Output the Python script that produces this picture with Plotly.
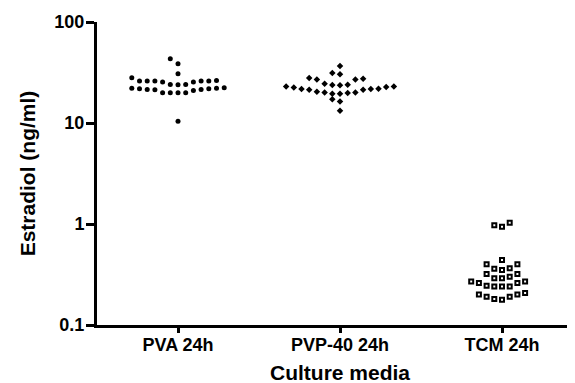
import numpy as np
import plotly.graph_objects as go

# ---- data ----
categories = ["PVA 24h", "PVP-40 24h", "TCM 24h"]
pva_24h = [43.3, 38.6, 30.8, 28.1, 26.0, 26.0, 26.0, 26.0, 26.0, 26.4, 25.4, 25.4,
           24.1, 24.1, 23.9, 19.9, 19.9, 19.9, 19.9, 21.0, 21.3, 21.5, 21.5, 21.8,
           21.8, 22.1, 22.1, 22.3, 10.4]
pvp40_24h = [36.6, 30.3, 31.2, 27.0, 27.0, 27.4, 27.9, 23.6, 23.8, 23.9, 24.5,
             19.5, 19.5, 19.8, 20.1, 20.1, 20.4, 21.3, 21.3, 21.7, 21.7, 21.8,
             22.7, 22.5, 23.0, 23.0, 17.2, 16.3, 13.2]
tcm_24h = [1.03, 0.97, 0.94, 0.44, 0.40, 0.40, 0.365, 0.36, 0.35, 0.32, 0.32,
           0.30, 0.29, 0.29, 0.27, 0.27, 0.26, 0.26, 0.245, 0.24, 0.24, 0.24,
           0.208, 0.20, 0.20, 0.19, 0.19, 0.181, 0.178]
y_tick_values = [0.1, 1, 10, 100]
y_tick_labels = ["0.1", "1", "10", "100"]
x_title = "Culture media"
y_title = "Estradiol (ng/ml)"

# ---- layout constants ----
# (the page has an 8px body margin, so the figure is drawn 8px right/down)
W, H = 575, 383
M_L, M_R, M_T, M_B = 89, 0, 14, 66
X_RANGE = [-0.5, 2.5]
CAT_PX = (W - M_L - M_R) / (X_RANGE[1] - X_RANGE[0])   # pixels per category
SLOT_PX = 7.7                       # horizontal spacing of swarm points
ROW_DEC = 0.075                     # height of a swarm row in decades
FONT = "Liberation Sans, Arial, sans-serif"


def swarm_offsets(values, row_dec, slot_w):
    """Prism-like column scatter: group close values into rows, lowest value in
    the centre, others alternating outwards."""
    vals = np.asarray(values, dtype=float)
    logs = np.log10(vals)
    order = np.argsort(vals, kind="stable")
    off = np.zeros(len(vals))
    i, n = 0, len(vals)
    while i < n:
        start = logs[order[i]]
        j = i
        while j < n and logs[order[j]] - start <= row_dec + 1e-9:
            j += 1
        for k, idx in enumerate(order[i:j]):
            slot = ((k + 1) // 2) * (-1 if k % 2 == 1 else 1)
            off[idx] = slot * slot_w
        i = j
    return off


slot_w = SLOT_PX / CAT_PX
groups = [pva_24h, pvp40_24h, tcm_24h]
markers = [
    dict(symbol="circle", size=5, color="black", line=dict(width=0)),
    dict(symbol="diamond", size=5, color="black", line=dict(width=0)),
    dict(symbol="square", size=4, color="white", line=dict(width=2, color="black")),
]

fig = go.Figure()
for ci, (vals, mk) in enumerate(zip(groups, markers)):
    xs = ci + swarm_offsets(vals, ROW_DEC, slot_w)
    fig.add_trace(go.Scatter(x=xs, y=vals, mode="markers", marker=mk,
                             name=categories[ci], showlegend=False,
                             hoverinfo="y"))

axis_font = dict(family=FONT, size=18, color="black", weight="bold")
title_font = dict(family=FONT, size=21, color="black", weight="bold")

fig.update_layout(
    width=W, height=H,
    margin=dict(l=M_L, r=M_R, t=M_T, b=M_B, pad=0),
    paper_bgcolor="white", plot_bgcolor="white",
    showlegend=False,
    xaxis=dict(
        range=X_RANGE, tickmode="array", tickvals=[0, 1, 2], ticktext=categories,
        showline=True, linecolor="black", linewidth=3,
        ticks="outside", ticklen=5, tickwidth=3, tickcolor="black",
        ticklabelstandoff=-4,
        showgrid=False, zeroline=False, tickfont=axis_font,
        title=dict(text=x_title, font=title_font, standoff=12),
        automargin=False,
    ),
    yaxis=dict(
        type="log", range=[-1, 2], tickmode="array",
        tickvals=y_tick_values, ticktext=y_tick_labels,
        showline=True, linecolor="black", linewidth=3,
        ticks="outside", ticklen=8, tickwidth=3, tickcolor="black",
        ticklabelstandoff=-2,
        showgrid=False, zeroline=False, tickfont=axis_font,
        title=dict(text=y_title, font=title_font, standoff=14),
        automargin=False,
    ),
)

fig.write_html("out.html")
